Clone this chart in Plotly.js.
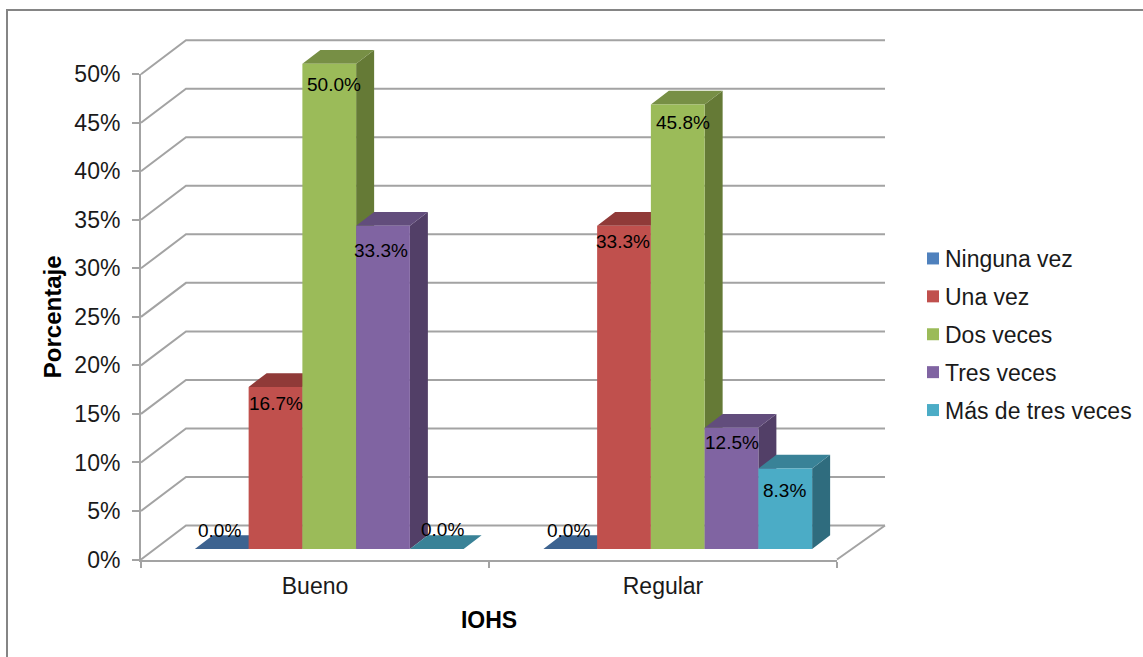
<!DOCTYPE html>
<html lang="es">
<head>
<meta charset="utf-8">
<title>Porcentaje por IOHS</title>
<script src="https://cdn.plot.ly/plotly-3.0.1.min.js"></script>
<style>
  html, body { margin: 0; padding: 0; background: #fff; }
  #chart { width: 1143px; height: 657px; }
</style>
</head>
<body>
<div id="chart"></div>
<script>
// Chart data
const categories = ["Bueno", "Regular"];
const seriesNames = ["Ninguna vez", "Una vez", "Dos veces", "Tres veces", "Más de tres veces"];
const ningunaVez = [0.0, 0.0];
const unaVez = [16.7, 33.3];
const dosVeces = [50.0, 45.8];
const tresVeces = [33.3, 12.5];
const masDeTres = [0.0, 8.3];
const yTicks = [0, 5, 10, 15, 20, 25, 30, 35, 40, 45, 50];

// Face colours per series
const frontColors = ["#4f81bd", "#c0504d", "#9bbb59", "#8064a2", "#4bacc6"];
const topColors = ["#3d6390", "#903a38", "#778f45", "#624d7c", "#398297"];
const sideColors = ["#345578", "#7a3230", "#657a36", "#523f67", "#2f6c7e"];

// Nudges for the value labels, in pixels [x, y]
const labelNudge = [
  [[-2, 19], [-2, 19]],
  [[0, -17], [-1, -16]],
  [[5, -21], [5, -18]],
  [[-2, -25], [0, -15]],
  [[6, 20], [-1, -22]]
];

const W = 1143, H = 657;
const pxPerCategory = 348.5, pxPerPercent = 9.706;
const plane = { x: 155, y: 549 };              // where category -0.5 / value 0 of the bar plane fall
const front = { left: 141, right: 837, y: 559.5 };
const wall = { dx: 45, dy: 34 };
const depth = { dx: 18, dy: 13.7 };
const barWidth = 53.75 / pxPerCategory;
const gridColor = "#a3a3a3";
const textColor = "#1a1a1a";
const fontFamily = "Liberation Sans, Arial, sans-serif";

const ux = px => px / pxPerCategory;
const uy = px => px / pxPerPercent;
const sceneX = px => ux(px - plane.x) - 0.5;
const sceneY = py => uy(plane.y - py);
const xRange = [sceneX(0), sceneX(W)];
const yRange = [sceneY(H), sceneY(0)];

const allSeries = [ningunaVez, unaVez, dosVeces, tresVeces, masDeTres];
const traces = [];

// Back wall, side wall and floor outline
const wallX = [], wallY = [];
yTicks.forEach(v => {
  const y0 = v + sceneY(front.y);
  wallX.push(sceneX(front.left), sceneX(front.left + wall.dx), sceneX(885), null);
  wallY.push(y0, y0 + uy(wall.dy), y0 + uy(wall.dy), null);
});
wallX.push(sceneX(885), sceneX(front.right));
wallY.push(sceneY(front.y) + uy(wall.dy), sceneY(front.y));
traces.push({
  type: "scatter", mode: "lines", x: wallX, y: wallY, xaxis: "x", yaxis: "y",
  line: { color: gridColor, width: 2 }, showlegend: false, hoverinfo: "skip"
});

// Top and side faces, painted from the left series to the right one
allSeries.forEach((values, s) => {
  const sideX = [], sideY = [], topX = [], topY = [];
  values.forEach((v, i) => {
    const l = i + (s - 2.5) * barWidth, r = l + barWidth;
    const ddx = ux(depth.dx), ddy = uy(depth.dy);
    topX.push(l, r, r + ddx, l + ddx, l, null);
    topY.push(v, v, v + ddy, v + ddy, v, null);
    sideX.push(r, r + ddx, r + ddx, r, r, null);
    sideY.push(0, ddy, v + ddy, v, 0, null);
  });
  [[sideX, sideY, sideColors[s]], [topX, topY, topColors[s]]].forEach(([x, y, color]) => {
    traces.push({
      type: "scatter", mode: "lines", x, y, xaxis: "x", yaxis: "y",
      fill: "toself", fillcolor: color, line: { width: 0, color },
      showlegend: false, hoverinfo: "skip"
    });
  });
});

// Front faces, which also supply the legend
allSeries.forEach((values, s) => {
  traces.push({
    type: "bar", x: categories, y: values, name: seriesNames[s],
    xaxis: "x2", yaxis: "y2", legendgroup: seriesNames[s],
    marker: { color: frontColors[s], line: { width: 0 } }, hoverinfo: "skip"
  });
});

// Carries the category labels of the visible axes
traces.push({
  type: "scatter", mode: "markers", x: categories, y: [0, 0], xaxis: "x3", yaxis: "y3",
  marker: { opacity: 0 }, showlegend: false, hoverinfo: "skip"
});

// Value labels
const annotations = [];
allSeries.forEach((values, s) => {
  values.forEach((v, i) => {
    annotations.push({
      xref: "x2", yref: "y2", x: i + (s - 2) * barWidth, y: v,
      xshift: labelNudge[s][i][0], yshift: labelNudge[s][i][1],
      text: v.toFixed(1) + "%", showarrow: false,
      font: { family: fontFamily, size: 19, color: "#000" }
    });
  });
});

const hidden = { visible: false, showgrid: false, zeroline: false, fixedrange: true };
const layout = {
  width: W, height: H, autosize: false,
  margin: { l: 0, r: 0, t: 0, b: 0, autoexpand: false },
  paper_bgcolor: "#fff", plot_bgcolor: "rgba(0,0,0,0)",
  font: { family: fontFamily, size: 22, color: textColor },
  barmode: "group", bargap: 1 - 5 * barWidth, bargroupgap: 0,
  xaxis: { ...hidden, range: xRange, domain: [0, 1] },
  yaxis: { ...hidden, range: yRange, domain: [0, 1] },
  xaxis2: { ...hidden, type: "category", categoryarray: categories, range: xRange, overlaying: "x" },
  yaxis2: { ...hidden, range: yRange, overlaying: "y" },
  xaxis3: {
    type: "category", categoryarray: categories, range: [-0.5, 1.5],
    domain: [front.left / W, front.right / W], anchor: "y3",
    showgrid: false, zeroline: false, showline: true, linecolor: gridColor, linewidth: 2,
    tickson: "boundaries", ticks: "outside", ticklen: 6, tickwidth: 2, tickcolor: gridColor,
    tickfont: { size: 23, color: textColor }, ticklabelstandoff: 5,
    title: { text: "<b>IOHS</b>", font: { size: 23, color: "#000" }, standoff: 14 }
  },
  yaxis3: {
    range: [0, 50], domain: [1 - front.y / H, 1 - (front.y - 50 * pxPerPercent) / H], anchor: "x3",
    tickvals: yTicks, ticktext: yTicks.map(v => v + "%"),
    showgrid: false, zeroline: false, showline: true, linecolor: gridColor, linewidth: 2,
    ticks: "outside", ticklen: 7, tickwidth: 2, tickcolor: gridColor,
    tickfont: { size: 23, color: textColor }, ticklabelstandoff: 7,
    title: { text: "<b>Porcentaje</b>", font: { size: 24, color: "#000" }, standoff: 6 }
  },
  legend: {
    x: 913 / W, xanchor: "left", y: 1 - 237 / H, yanchor: "top",
    bgcolor: "rgba(0,0,0,0)", borderwidth: 0,
    font: { size: 23, color: textColor }, tracegroupgap: 5, itemwidth: 30
  },
  annotations,
  shapes: [{
    type: "rect", xref: "paper", yref: "paper", layer: "below",
    x0: 7 / W, x1: 1148 / W, y0: -0.02, y1: 1 - 10 / H,
    line: { color: "#858585", width: 2 }, fillcolor: "rgba(0,0,0,0)"
  }]
};

Plotly.newPlot("chart", traces, layout, { displayModeBar: false, staticPlot: true }).then(() => {
  // Pull the legend labels in close to their swatches
  document.querySelectorAll("#chart .legend .legendtext").forEach(label => {
    label.setAttribute("x", 32);
  });
});
</script>
</body>
</html>
